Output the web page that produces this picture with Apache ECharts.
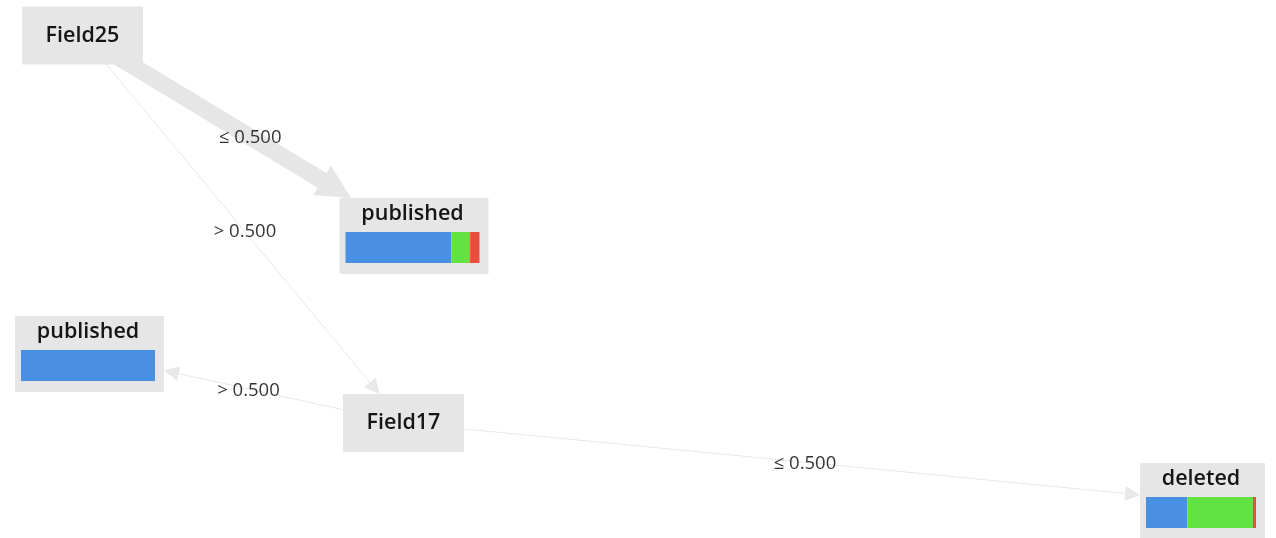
<!DOCTYPE html>
<html>
<head>
<meta charset="utf-8">
<script src="https://cdn.jsdelivr.net/npm/echarts@6/dist/echarts.min.js"></script>
<style>
  html, body { margin: 0; padding: 0; background: #fff; }
  #chart { width: 1276px; height: 538px; }
</style>
</head>
<body>
<div id="chart"></div>
<script>
// 决策树节点
const nodeNames = ['Field25', 'published', 'Field17', 'published', 'deleted'];
const nodeX = [82.5, 414, 403.5, 89.5, 1202.5];
const nodeY = [35.5, 236, 423, 354, 501];
// 叶子节点的类别占比 (蓝 / 绿 / 红)
const leafShares = [null, [0.79, 0.14, 0.07], null, [1, 0, 0], [0.376, 0.596, 0.028]];
// 分支
const linkSource = [0, 0, 2, 2];
const linkTarget = [1, 2, 3, 4];
const linkLabels = ['≤ 0.500', '> 0.500', '> 0.500', '≤ 0.500'];

const classColors = ['#4a90e2', '#62e344', '#ea4c3d'];
const boxColor = '#e6e6e6';
const nameSize = 21.5;
const nameFont = '600 ' + nameSize + 'px "Open Sans"';

const ctx = document.createElement('canvas').getContext('2d');
function textWidth(s, font) {
  ctx.font = font;
  return ctx.measureText(s).width;
}

// 框的大小
const boxSize = nodeNames.map((name, i) => {
  const w = Math.round(textWidth(name, nameFont) + 47);
  return [w, leafShares[i] ? 76 : 58];
});

// 箭头尖端落在框的边上
const arrowSize = linkSource.map((s, i) => (i === 0 ? [46, 34] : [13, 15]));
const lineWidth = linkSource.map((s, i) => (i === 0 ? 17 : 1));
const adjustSize = nodeNames.map(() => 0);
linkTarget.forEach((t, i) => {
  const s = linkSource[i];
  const dx = nodeX[t] - nodeX[s];
  const dy = nodeY[t] - nodeY[s];
  const len = Math.sqrt(dx * dx + dy * dy);
  const hw = boxSize[t][0] / 2;
  const hh = boxSize[t][1] / 2;
  const d = Math.min(hw / Math.abs(dx / len), hh / Math.abs(dy / len));
  adjustSize[t] = 2 * (d + arrowSize[i][1] / 2);
});

const chart = echarts.init(document.getElementById('chart'));

const nodeItems = nodeNames.map((name, i) => {
  const shares = leafShares[i];
  const item = {
    name: name,
    value: [nodeX[i], nodeY[i]],
    symbolSize: boxSize[i],
  };
  if (shares) {
    const barW = boxSize[i][0] - 15;
    const rich = {
      t: { fontFamily: 'Open Sans', fontWeight: 600, fontSize: nameSize, color: '#151515', lineHeight: 36 },
    };
    let bar = '';
    shares.forEach((v, k) => {
      if (v <= 0) return;
      rich['c' + k] = { width: barW * v, height: 31, backgroundColor: classColors[k] };
      bar += '{c' + k + '| }';
    });
    item.label = {
      formatter: '{t|' + name + '}\n' + bar,
      rich: rich,
      offset: [-1.5, -6.5],
    };
  }
  return item;
});

const option = {
  animation: false,
  grid: { left: 0, right: 0, top: 0, bottom: 0 },
  xAxis: { type: 'value', min: 0, max: 1276, show: false },
  yAxis: { type: 'value', min: 0, max: 538, inverse: true, show: false },
  series: [
    {
      // 连线
      type: 'graph',
      coordinateSystem: 'cartesian2d',
      layout: 'none',
      z: 1,
      symbol: 'circle',
      itemStyle: { opacity: 0 },
      label: { show: false },
      data: nodeNames.map((name, i) => ({
        name: name + i,
        value: [nodeX[i], nodeY[i]],
        symbolSize: adjustSize[i],
      })),
      links: linkSource.map((s, i) => ({
        source: s,
        target: linkTarget[i],
        symbol: ['none', 'triangle'],
        symbolSize: arrowSize[i],
        lineStyle: { width: lineWidth[i], color: i === 0 ? '#e6e6e6' : '#e8e8e8', opacity: 1 },
      })),
      emphasis: { disabled: true },
    },
    {
      // 节点框
      type: 'scatter',
      z: 3,
      symbol: 'rect',
      itemStyle: { color: boxColor, opacity: 1 },
      label: {
        show: true,
        position: 'inside',
        fontFamily: 'Open Sans',
        fontWeight: 600,
        fontSize: nameSize,
        color: '#151515',
        formatter: '{b}',
      },
      data: nodeItems,
      emphasis: { disabled: true },
    },
    {
      // 分支条件
      type: 'scatter',
      z: 4,
      symbolSize: 0,
      label: {
        show: true,
        position: 'inside',
        offset: [2, 2],
        fontFamily: 'Open Sans',
        fontSize: 18.5,
        color: '#000',
        formatter: (p) => linkLabels[p.dataIndex],
      },
      data: linkSource.map((s, i) => [
        (nodeX[s] + nodeX[linkTarget[i]]) / 2,
        (nodeY[s] + nodeY[linkTarget[i]]) / 2,
      ]),
      emphasis: { disabled: true },
    },
  ],
};

chart.setOption(option);
</script>
</body>
</html>
